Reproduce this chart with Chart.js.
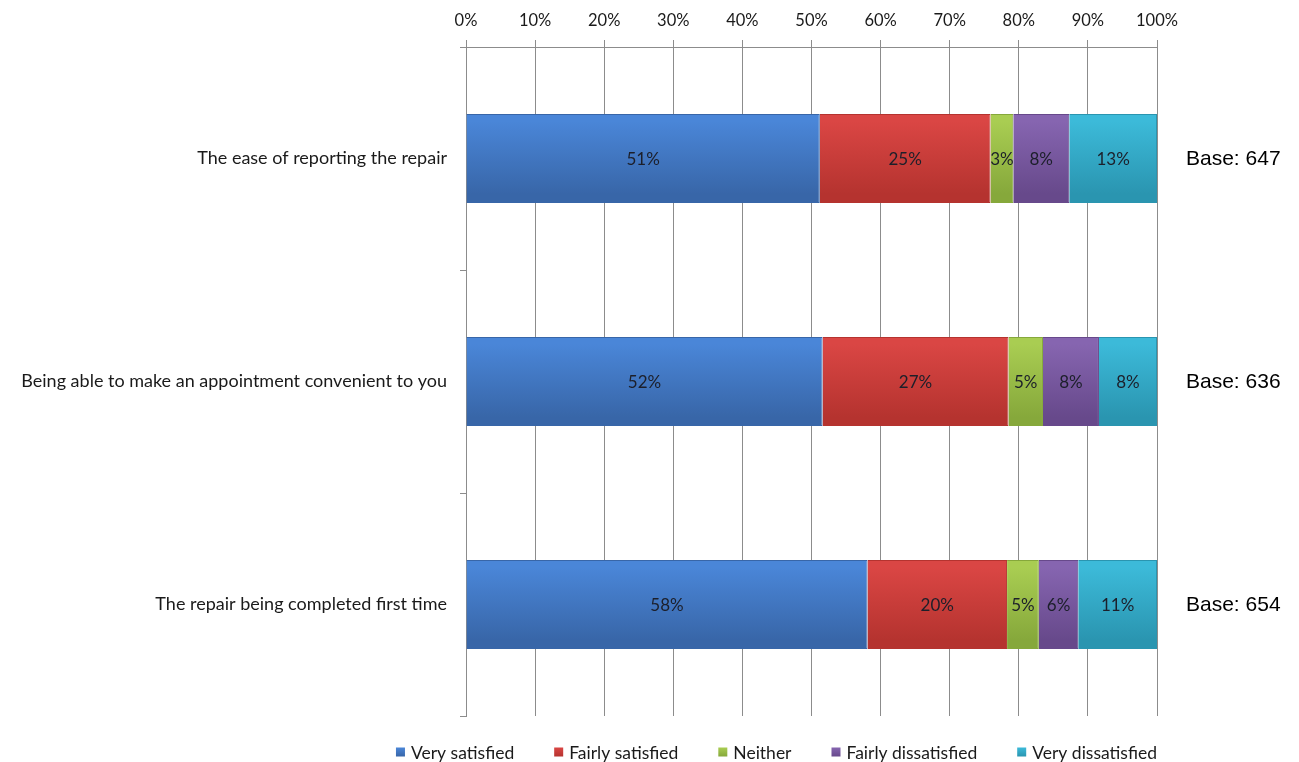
<!DOCTYPE html>
<html>
<head>
<meta charset="utf-8">
<script src="https://cdn.jsdelivr.net/npm/chart.js@4.4.0/dist/chart.umd.min.js"></script>
<style>
	html, body { margin: 0; padding: 0; background: #fff; }
</style>
</head>
<body>
<canvas id="chart" width="1299" height="762"></canvas>
<script>
// Categories and series
const categories = [
	'The ease of reporting the repair',
	'Being able to make an appointment convenient to you',
	'The repair being completed first time'
];
const seriesNames = ['Very satisfied', 'Fairly satisfied', 'Neither', 'Fairly dissatisfied', 'Very dissatisfied'];
const verySatisfied = [51.2, 51.6, 58.1];
const fairlySatisfied = [24.7, 26.9, 20.2];
const neither = [3.3, 5.0, 4.6];
const fairlyDissatisfied = [8.1, 8.1, 5.7];
const veryDissatisfied = [12.7, 8.4, 11.4];
const bases = [647, 636, 654];
const xTicks = [0, 10, 20, 30, 40, 50, 60, 70, 80, 90, 100];

// top / bottom colours of each bar gradient
const palette = [
	['#4a86d8', '#3866a8'],
	['#da4644', '#b5332f'],
	['#a9cd52', '#86a83b'],
	['#8665b0', '#67498b'],
	['#3cbad9', '#2a95b0']
];

const labelFont = 'Lato, "Open Sans", sans-serif';

function barFill(idx) {
	return function(ctx) {
		const chart = ctx.chart;
		const y = chart.scales && chart.scales.y;
		if (!chart.chartArea || !y || ctx.dataIndex === undefined) return palette[idx][0];
		const band = (y.getPixelForValue(1) - y.getPixelForValue(0)) * 0.4;
		const mid = y.getPixelForValue(ctx.dataIndex);
		const g = chart.ctx.createLinearGradient(0, mid - band / 2, 0, mid + band / 2);
		g.addColorStop(0, palette[idx][0]);
		g.addColorStop(0.08, palette[idx][0]);
		g.addColorStop(0.9, palette[idx][1]);
		g.addColorStop(1, palette[idx][1]);
		return g;
	};
}

const allSeries = [verySatisfied, fairlySatisfied, neither, fairlyDissatisfied, veryDissatisfied];

// Value labels, base counts and legend
const extrasPlugin = {
	id: 'extras',
	afterDatasetsDraw(chart) {
		const ctx = chart.ctx;
		ctx.save();
		ctx.font = '17px ' + labelFont;
		ctx.fillStyle = '#1c1f2a';
		ctx.textAlign = 'center';
		ctx.textBaseline = 'middle';
		chart.data.datasets.forEach((ds, di) => {
			chart.getDatasetMeta(di).data.forEach((bar, i) => {
				const cx = (bar.x + bar.base) / 2;
				ctx.fillText(Math.round(ds.data[i]) + '%', cx, bar.y + 1);
			});
		});

		// Base labels on the right
		const area = chart.chartArea;
		ctx.font = '21px "Liberation Sans", Arial, sans-serif';
		ctx.fillStyle = '#000';
		ctx.textAlign = 'left';
		bases.forEach((b, i) => {
			const y = chart.scales.y.getPixelForValue(i);
			ctx.fillText('Base: ' + b, area.right + 29, y + 1);
		});

		// Legend under the plot, right aligned with the plot area
		ctx.font = '17.5px ' + labelFont;
		const box = 9, gapBox = 6, gapItem = 40;
		const widths = seriesNames.map(n => box + gapBox + ctx.measureText(n).width);
		const total = widths.reduce((a, b) => a + b, 0) + gapItem * (widths.length - 1);
		let x = area.right - total;
		const ly = 752;
		seriesNames.forEach((n, i) => {
			const g = ctx.createLinearGradient(0, ly - box / 2, 0, ly + box / 2);
			g.addColorStop(0, palette[i][0]);
			g.addColorStop(1, palette[i][1]);
			ctx.fillStyle = g;
			ctx.fillRect(x, ly - box / 2, box, box);
			ctx.fillStyle = '#1a1a1a';
			ctx.fillText(n, x + box + gapBox, ly + 1);
			x += widths[i] + gapItem;
		});
		ctx.restore();
	}
};

new Chart(document.getElementById('chart'), {
	type: 'bar',
	data: {
		labels: categories,
		datasets: allSeries.map((data, i) => ({
			label: seriesNames[i],
			data: data,
			backgroundColor: barFill(i),
			borderColor: palette[i][1],
			borderWidth: 1,
			barPercentage: 0.4,
			categoryPercentage: 1
		}))
	},
	options: {
		indexAxis: 'y',
		responsive: false,
		animation: false,
		layout: { padding: { left: 0, right: 142, top: 0, bottom: 46 } },
		plugins: {
			legend: { display: false },
			tooltip: { enabled: false }
		},
		scales: {
			x: {
				position: 'top',
				stacked: true,
				min: 0,
				max: 100,
				afterBuildTicks: function(scale) {
					scale.ticks = xTicks.map(v => ({ value: v }));
				},
				afterFit: function(scale) { scale.height = 47; },
				grid: { color: '#8c8c8c', lineWidth: 1, tickLength: 7, drawTicks: true },
				border: { color: '#8c8c8c' },
				ticks: {
					padding: 9,
					color: '#1a1a1a',
					font: { family: labelFont, size: 16.5 },
					callback: v => v + '%'
				}
			},
			y: {
				stacked: true,
				afterFit: function(scale) { scale.width = 466; },
				grid: { display: true, drawOnChartArea: false, offset: true, tickLength: 6, color: '#8c8c8c' },
				border: { color: '#8c8c8c' },
				ticks: {
					padding: 13,
					color: '#1a1a1a',
					font: { family: labelFont, size: 18 }
				}
			}
		}
	},
	plugins: [extrasPlugin]
});
</script>
</body>
</html>
